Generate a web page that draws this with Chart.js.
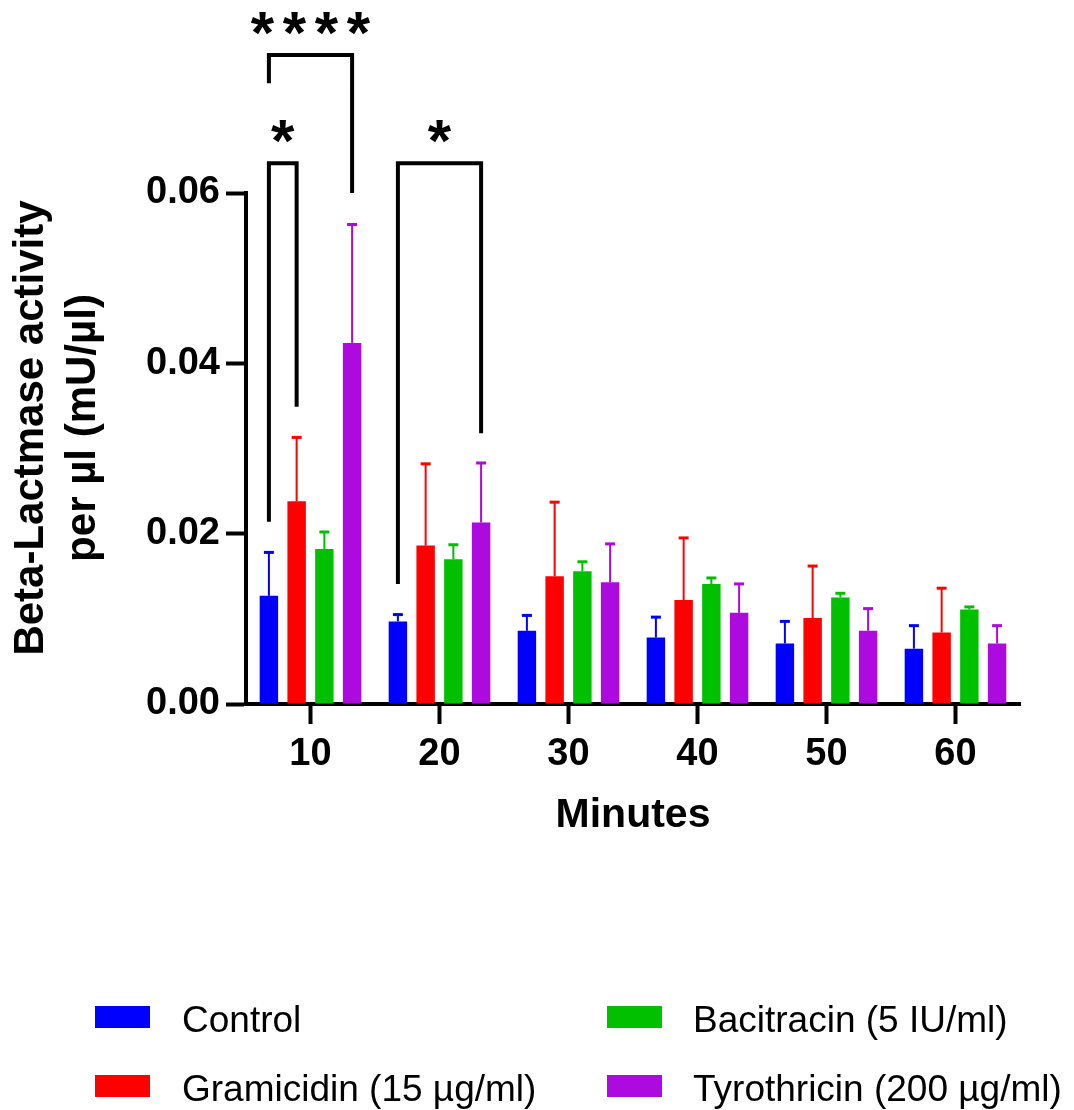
<!DOCTYPE html>
<html>
<head>
<meta charset="utf-8">
<script src="https://cdn.jsdelivr.net/npm/chart.js@4.4.1/dist/chart.umd.min.js"></script>
<style>
  html, body { margin: 0; padding: 0; background: #fff; }
  canvas { display: block; }
</style>
</head>
<body>
<canvas id="c" width="1074" height="1110"></canvas>
<script>
// ---------- data ----------
const categories = ['10', '20', '30', '40', '50', '60'];
const seriesNames = ['Control', 'Gramicidin (15 µg/ml)', 'Bacitracin (5 IU/ml)', 'Tyrothricin (200 µg/ml)'];
const controlMean     = [0.0127, 0.0097, 0.0086, 0.0078, 0.0071, 0.0065];
const controlSD       = [0.0051, 0.0008, 0.0018, 0.0024, 0.0026, 0.0027];
const gramicidinMean  = [0.0238, 0.0186, 0.0150, 0.0122, 0.0101, 0.0084];
const gramicidinSD    = [0.0075, 0.0096, 0.0087, 0.0073, 0.0061, 0.0052];
const bacitracinMean  = [0.0182, 0.0170, 0.0156, 0.0141, 0.0125, 0.0111];
const bacitracinSD    = [0.0020, 0.0017, 0.0011, 0.0007, 0.0005, 0.0003];
const tyrothricinMean = [0.0424, 0.0213, 0.0143, 0.0107, 0.0086, 0.0071];
const tyrothricinSD   = [0.0139, 0.0070, 0.0045, 0.0034, 0.0026, 0.0021];
const yTicks = [0, 0.02, 0.04, 0.06];
const xTitle = 'Minutes';
const yTitleLines = ['Beta-Lactmase activity', 'per µl (mU/µl)'];
// significance brackets: legs at (category index, series index), heights in data units
const sigLabels   = ['*', '****', '*'];
const sigFrom     = [[0, 0], [0, 0], [1, 0]];
const sigTo       = [[0, 1], [0, 3], [1, 3]];
const sigTop      = [0.0635, 0.0762, 0.0635];
const sigFromEnd  = [0.0214, 0.0729, 0.0141];
const sigToEnd    = [0.0349, 0.0600, 0.0318];

const colors = ['#0000FF', '#FF0000', '#00C000', '#AC0ADF'];
const FONT = '"Liberation Sans", Arial, Helvetica, sans-serif';

const means = [controlMean, gramicidinMean, bacitracinMean, tyrothricinMean];
const sds = [controlSD, gramicidinSD, bacitracinSD, tyrothricinSD];

const datasets = seriesNames.map((name, i) => ({
  label: name,
  data: means[i],
  sd: sds[i],
  backgroundColor: colors[i],
  borderWidth: 0,
  categoryPercentage: 0.86,
  barPercentage: 0.665
}));

// ---------- plugins ----------
const errorBars = {
  id: 'errorBars',
  afterDatasetsDraw(chart) {
    const ctx = chart.ctx;
    const ys = chart.scales.y;
    chart.data.datasets.forEach((ds, i) => {
      const meta = chart.getDatasetMeta(i);
      meta.data.forEach((bar, j) => {
        const top = ys.getPixelForValue(ds.data[j] + ds.sd[j]);
        ctx.save();
        ctx.strokeStyle = ds.backgroundColor;
        ctx.lineWidth = 2;
        ctx.beginPath();
        ctx.moveTo(bar.x, bar.y);
        ctx.lineTo(bar.x, top);
        ctx.stroke();
        ctx.lineWidth = 3;
        ctx.beginPath();
        ctx.moveTo(bar.x - 5, top);
        ctx.lineTo(bar.x + 5, top);
        ctx.stroke();
        ctx.restore();
      });
    });
  }
};

const brackets = {
  id: 'brackets',
  afterDraw(chart) {
    const ctx = chart.ctx;
    const ys = chart.scales.y;
    ctx.save();
    ctx.strokeStyle = '#000';
    ctx.lineWidth = 4;
    ctx.lineJoin = 'miter';
    ctx.lineCap = 'butt';
    sigLabels.forEach((lab, k) => {
      const a = chart.getDatasetMeta(sigFrom[k][1]).data[sigFrom[k][0]];
      const b = chart.getDatasetMeta(sigTo[k][1]).data[sigTo[k][0]];
      const yt = ys.getPixelForValue(sigTop[k]);
      ctx.beginPath();
      ctx.moveTo(a.x, ys.getPixelForValue(sigFromEnd[k]));
      ctx.lineTo(a.x, yt);
      ctx.lineTo(b.x, yt);
      ctx.lineTo(b.x, ys.getPixelForValue(sigToEnd[k]));
      ctx.stroke();
      // stars
      ctx.fillStyle = '#000';
      ctx.font = 'bold 60px ' + FONT;
      ctx.textAlign = 'center';
      ctx.textBaseline = 'alphabetic';
      const m = ctx.measureText('*');
      const gc = (m.actualBoundingBoxAscent - m.actualBoundingBoxDescent) / 2;
      const cy = yt - 32 + gc;
      const cx = (a.x + b.x) / 2;
      const n = lab.length, sp = 32;
      for (let s = 0; s < n; s++) {
        ctx.fillText('*', cx + (s - (n - 1) / 2) * sp, cy);
      }
    });
    ctx.restore();
  }
};

const yTitle = {
  id: 'yTitle',
  afterDraw(chart) {
    const ctx = chart.ctx;
    ctx.save();
    ctx.translate(0, 428);
    ctx.rotate(-Math.PI / 2);
    ctx.fillStyle = '#000';
    ctx.font = 'bold 42px ' + FONT;
    ctx.textAlign = 'center';
    ctx.textBaseline = 'alphabetic';
    ctx.fillText(yTitleLines[0], 0, 43);
    ctx.fillText(yTitleLines[1], 0, 95);
    ctx.restore();
  }
};

const customLegend = {
  id: 'customLegend',
  afterDraw(chart) {
    const ctx = chart.ctx;
    const swX = [95, 607], txX = [182, 693], rowY = [1017, 1086];
    ctx.save();
    ctx.font = '37px ' + FONT;
    ctx.textAlign = 'left';
    ctx.textBaseline = 'alphabetic';
    chart.data.datasets.forEach((ds, i) => {
      const col = Math.floor(i / 2), row = i % 2;
      ctx.fillStyle = ds.backgroundColor;
      ctx.fillRect(swX[col], rowY[row] - 11, 55, 22);
      ctx.fillStyle = '#000';
      ctx.fillText(ds.label, txX[col], rowY[row] + 15);
    });
    ctx.restore();
  }
};

new Chart(document.getElementById('c'), {
  type: 'bar',
  data: { labels: categories, datasets },
  options: {
    responsive: false,
    devicePixelRatio: 1,
    animation: false,
    layout: { padding: { left: 0, top: 193, right: 54, bottom: 0 } },
    plugins: { legend: { display: false }, tooltip: { enabled: false } },
    scales: {
      x: {
        afterFit(scale) { scale.height = 406; },
        grid: { display: true, drawOnChartArea: false, drawTicks: true, tickLength: 20, tickWidth: 4, tickColor: '#000', offset: false },
        border: { display: true, width: 4, color: '#000' },
        ticks: { color: '#000', padding: 8, font: { family: FONT, size: 38, weight: 'bold' } },
        title: { display: true, text: xTitle, color: '#000', font: { family: FONT, size: 41, weight: 'bold' }, padding: { top: 0, bottom: 270 } }
      },
      y: {
        min: 0,
        max: 0.06,
        afterFit(scale) { scale.width = 246; },
        afterBuildTicks(scale) { scale.ticks = yTicks.map(v => ({ value: v })); },
        grid: { display: true, drawOnChartArea: false, drawTicks: true, tickLength: 20, tickWidth: 4, tickColor: '#000' },
        border: { display: true, width: 4, color: '#000' },
        ticks: { color: '#000', padding: 6, font: { family: FONT, size: 38, weight: 'bold' }, callback: v => Number(v).toFixed(2) }
      }
    }
  },
  plugins: [errorBars, brackets, yTitle, customLegend]
});
</script>
</body>
</html>
